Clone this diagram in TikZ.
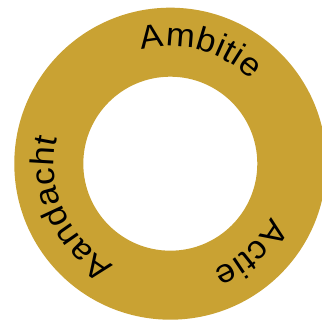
\documentclass[tikz,border=0pt]{standalone}
\usepackage{fontspec}
\setmainfont{Liberation Sans}[FakeStretch=1.05]
\usepackage{xcolor}
\usepackage{tikz}
\usetikzlibrary{decorations.text}
\definecolor{ringGold}{RGB}{201, 162, 51}
\newcommand{\ringfont}{\fontsize{33}{33}\selectfont}

\begin{document}
\begin{tikzpicture}[
  x=1pt, y=1pt,
  ring/.style={fill=ringGold, even odd rule},
  arclabel/.style={decorate, decoration={text along path, text align={fit to path}, text={#1}}}
]
  \ringfont
  \clip (0,0) rectangle (322,320);
  \coordinate (center) at (170.3,156.3);
  \fill[ring] (center) circle[radius=156] (center) circle[radius=87];

  % labels along the ring, clockwise
  \path[arclabel=Ambitie] (center) ++(104:117) arc[start angle=104, end angle=46, radius=117];
  \path[arclabel=Actie] (center) ++(-28:114) arc[start angle=-28, end angle=-68, radius=114];
  \path[arclabel=Aandacht] (center) ++(241:116) arc[start angle=241, end angle=167, radius=116];
\end{tikzpicture}
\end{document}
